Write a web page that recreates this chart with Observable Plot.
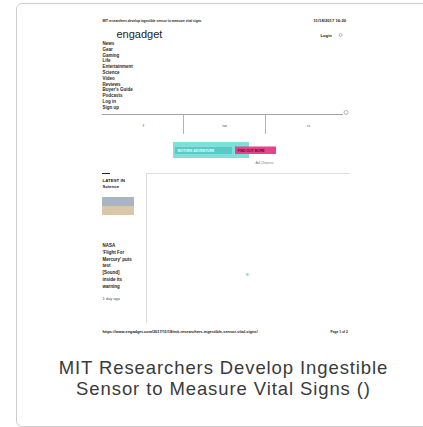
<!DOCTYPE html>
<html>
<head>
<meta charset="utf-8">
<script src="https://cdn.jsdelivr.net/npm/d3@7"></script>
<script src="https://cdn.jsdelivr.net/npm/@observablehq/plot@0.6"></script>
<style>
  html, body { margin: 0; padding: 0; background: #fff; overflow: hidden; }
  body { width: 423px; height: 427px; position: relative; font-family: "Liberation Sans", Arial, sans-serif; }
  #card { position: absolute; left: 16px; top: 3px; width: 420px; height: 424px; border: 1.5px solid #cfcfcf; border-radius: 6px; box-sizing: border-box; }
  #chart { position: absolute; left: 0; top: 0; }
  #caption { position: absolute; left: 17px; width: 413px; top: 357px; text-align: center; font-size: 18.5px; letter-spacing: 0.9px; line-height: 21px; color: #3a3a3a; }
</style>
</head>
<body>
<div id="card"></div>
<div id="chart"></div>
<div id="caption">MIT Researchers Develop Ingestible<br>Sensor to Measure Vital Signs ()</div>
<script>
// --- content of the page thumbnail ---
const headerLeft = ["MIT researchers develop ingestible sensor to measure vital signs"];
const headerRight = ["11/18/2017 16:20"];
const logo = ["engadget"];
const loginText = ["Login"];
const navItems = ["News", "Gear", "Gaming", "Life", "Entertainment", "Science", "Video", "Reviews", "Buyer's Guide", "Podcasts", "Log in", "Sign up"];
const tabLabels = ["f", "tw", "rs"];
const bannerText = ["MOTORS ADVENTURE", "FIND OUT MORE"];
const bannerNote = ["Ad Choices"];
const sideHead = ["LATEST IN", "Science"];
const sideStory = ["NASA", "'Flight For", "Mercury' puts", "test", "[Sound]", "inside its", "warning"];
const sideTime = ["1 day ago"];
const footerLeft = ["https://www.engadget.com/2017/11/18/mit-researchers-ingestible-sensor-vital-signs/"];
const footerRight = ["Page 1 of 2"];
const dotPoint = [1];

const tiny = {textAnchor: "start", fill: "#1a1a1a", fontFamily: "Liberation Sans, Arial, sans-serif"};

const plot = Plot.plot({
  width: 423,
  height: 350,
  margin: 0,
  x: {domain: [0, 423], range: [0, 423], axis: null},
  y: {domain: [0, 350], range: [0, 350], axis: null},
  style: {background: "transparent", overflow: "visible"},
  marks: [
    // header
    Plot.text(headerLeft, {...tiny, x: 102, y: 20, text: d => d, fontSize: 3.2, fontWeight: "bold"}),
    Plot.text(headerRight, {...tiny, x: 313, y: 20, text: d => d, fontSize: 4.2, fontWeight: "bold"}),
    Plot.text(logo, {...tiny, x: 116, y: 34, text: d => d, fontSize: 11, fill: "#222"}),
    Plot.text(loginText, {...tiny, x: 320, y: 35, text: d => d, fontSize: 4.2, fontWeight: "bold"}),
    Plot.dot([0], {x: 340, y: 34.5, r: 1.4, stroke: "#888", strokeWidth: 0.6}),
    // navigation
    Plot.text(navItems, {...tiny, x: 102, y: (d, i) => 43 + i * 5.8, text: d => d, fontSize: 4.5, fontWeight: "bold", fill: "#2a2a2a"}),
    // rule + search
    Plot.ruleY([114], {x1: 102, x2: 343, stroke: "#999", strokeWidth: 0.9}),
    Plot.dot([0], {x: 345.5, y: 112, r: 2, stroke: "#999", strokeWidth: 0.7}),
    Plot.ruleX([183, 265], {y1: 114, y2: 134, stroke: "#aaa", strokeWidth: 0.9}),
    Plot.text(tabLabels, {x: (d, i) => [143, 224, 308][i], y: 125, text: d => d, fontSize: 4, fill: "#555"}),
    // banner ad
    Plot.rect([0], {x1: 173, x2: 249, y1: 142, y2: 158, fill: "#7fe0db"}),
    Plot.rect([0], {x1: 175, x2: 232, y1: 147, y2: 154, fill: "#55ccc6"}),
    Plot.rect([0], {x1: 235, x2: 276, y1: 146.5, y2: 154, fill: "#e8428a"}),
    Plot.text(bannerText, {...tiny, x: (d, i) => [177, 237][i], y: 150.5, text: d => d, fontSize: 3.4, fontWeight: "bold", fill: (d, i) => ["#eafffd", "#4a1030"][i]}),
    Plot.text(bannerNote, {...tiny, x: 255, y: 162, text: d => d, fontSize: 3.5, fill: "#777"}),
    // content divider
    Plot.ruleY([173], {x1: 146, x2: 350, stroke: "#ddd", strokeWidth: 1}),
    Plot.ruleX([146], {y1: 173, y2: 323, stroke: "#ddd", strokeWidth: 1}),
    // sidebar
    Plot.ruleY([173], {x1: 102, x2: 110, stroke: "#222", strokeWidth: 1}),
    Plot.text(sideHead, {...tiny, x: 102, y: (d, i) => 180.5 + i * 6, text: d => d, fontSize: 4.4, fontWeight: "bold"}),
    Plot.rect([0], {x1: 102, x2: 134, y1: 197, y2: 206, fill: "#aab4c2"}),
    Plot.rect([0], {x1: 102, x2: 134, y1: 206, y2: 215, fill: "#d9c7a8"}),
    Plot.text(sideStory, {...tiny, x: 102, y: (d, i) => 245 + i * 6.8, text: d => d, fontSize: 4.5, fontWeight: "bold"}),
    Plot.text(sideTime, {...tiny, x: 102, y: 298.5, text: d => d, fontSize: 4, fill: "#555"}),
    // the lone point in the content area
    Plot.dot(dotPoint, {x: 247, y: 274, r: 1.3, fill: "#7fa7b0", stroke: "#cfe8ee", strokeWidth: 1.5}),
    // footer
    Plot.text(footerLeft, {...tiny, x: 102, y: 331, text: d => d, fontSize: 3.9, fontWeight: "bold"}),
    Plot.text(footerRight, {...tiny, x: 330, y: 331, text: d => d, fontSize: 3.3, fontWeight: "bold"})
  ]
});
document.getElementById("chart").appendChild(plot);
</script>
</body>
</html>
